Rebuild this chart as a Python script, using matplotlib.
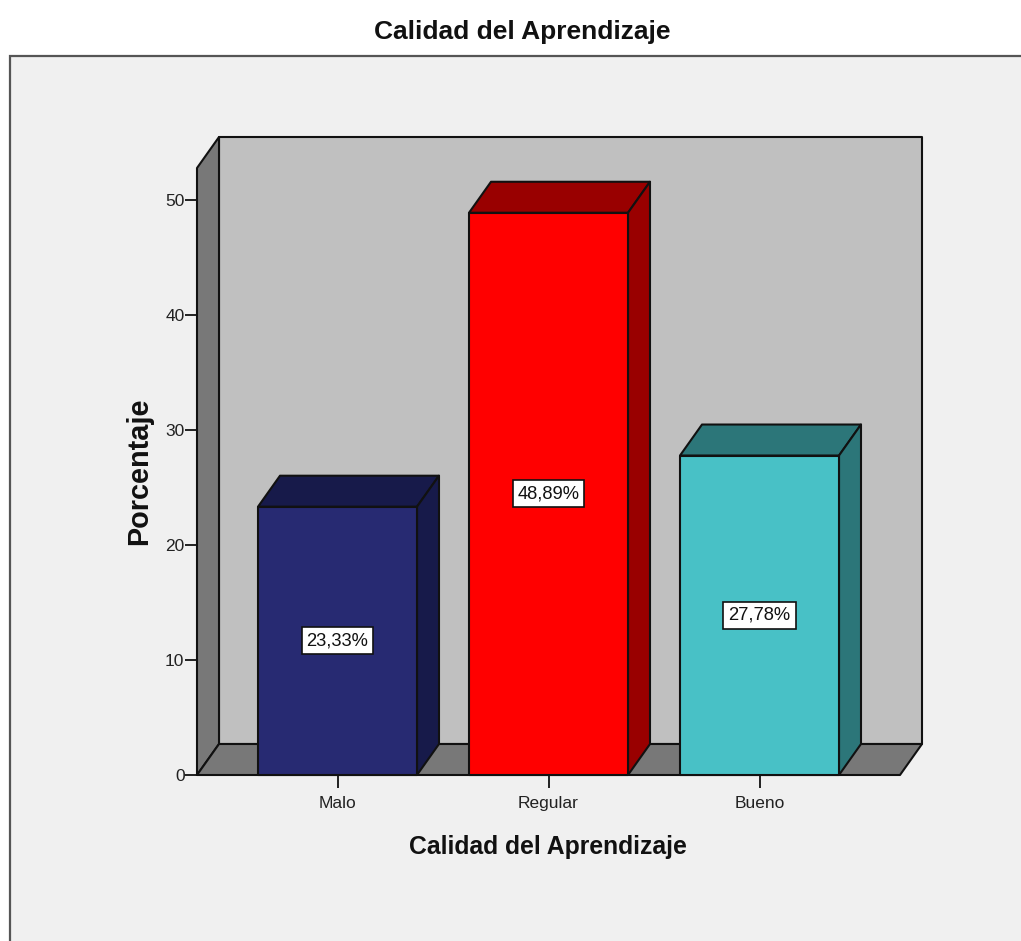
import matplotlib
matplotlib.use("Agg")
import matplotlib.pyplot as plt
from matplotlib.patches import Rectangle

plt.rcParams['font.family'] = ['Liberation Sans', 'DejaVu Sans']

categories = ["Malo", "Regular", "Bueno"]
values = [23.33, 48.89, 27.78]
labels = ["23,33%", "48,89%", "27,78%"]
front_colors = ["#272a72", "#ff0000", "#48c1c6"]
side_colors = ["#171a4a", "#990000", "#2c7679"]
y_ticks = [0, 10, 20, 30, 40, 50]
title = "Calidad del Aprendizaje"
y_title = "Porcentaje"

W, H = 1021, 941
fig = plt.figure(figsize=(W / 100, H / 100), dpi=100, facecolor="white")

# outer panel
fig.add_artist(Rectangle((9.5 / W, -0.01), 1.02, (941 - 55.5) / H + 0.01,
                         transform=fig.transFigure, facecolor="#f0f0f0",
                         edgecolor="#555555", linewidth=1.6, zorder=-1))

L, R, T, B = 197, 900, 168, 775
ax = fig.add_axes([L / W, 1 - B / H, (R - L) / W, (B - T) / H])
ax.set_xlim((L - 337.5) / 211, (R - 337.5) / 211)
ax.set_ylim(0, (B - T) / 11.5)
ax.patch.set_visible(False)
for s in ax.spines.values():
    s.set_visible(False)

dx = 22 / 211
dy = 31 / 11.5
x0, x1 = ax.get_xlim()
y0, y1 = ax.get_ylim()
lc = "#111111"
lw = 1.5


def poly(xs, ys, color, z):
    ax.fill(xs, ys, facecolor=color, edgecolor=lc, linewidth=lw, zorder=z,
            clip_on=False, joinstyle="round")


# walls
poly([x0 + dx, x1 + dx, x1 + dx, x0 + dx], [dy, dy, y1 + dy, y1 + dy], "#c0c0c0", 1)
poly([x0, x0 + dx, x0 + dx, x0], [0, dy, y1 + dy, y1], "#787878", 2)
poly([x0, x1, x1 + dx, x0 + dx], [0, 0, dy, dy], "#787878", 2)

# bars
bw = 159 / 211
for i, v in enumerate(values):
    a, b = i - bw / 2, i + bw / 2
    poly([a, b, b + dx, a + dx], [v, v, v + dy, v + dy], side_colors[i], 3)
    poly([b, b + dx, b + dx, b], [0, dy, v + dy, v], side_colors[i], 3)
    poly([a, b, b, a], [0, 0, v, v], front_colors[i], 4)
    ax.text(i, v / 2, labels[i], ha="center", va="center", fontsize=13.2,
            color="#111111", zorder=5,
            bbox=dict(boxstyle="square,pad=0.27", facecolor="white",
                      edgecolor="#111111", linewidth=1.2))

ax.set_xlim((L - 337.5) / 211, (R - 337.5) / 211)
ax.set_ylim(0, (B - T) / 11.5)
ax.set_xticks(range(len(categories)), categories)
ax.set_yticks(y_ticks)
ax.tick_params(axis="x", length=9, width=1.3, color=lc, labelsize=12.5, pad=6,
               labelcolor="#222222")
ax.tick_params(axis="y", length=8.5, width=1.3, color=lc, labelsize=12.5, pad=0.5,
               labelcolor="#222222")

fig.text(522 / W, 1 - 32 / H, title, ha="center", va="center", fontsize=19,
         fontweight="bold", color="#111111")
fig.text(548 / W, 1 - 847 / H, title, ha="center", va="center", fontsize=17.8,
         fontweight="bold", color="#111111")
fig.text(139 / W, 1 - 471 / H, y_title, ha="center", va="center", rotation=90,
         fontsize=20.8, fontweight="bold", color="#111111")

fig.savefig("out.png", dpi=100, facecolor="white")
